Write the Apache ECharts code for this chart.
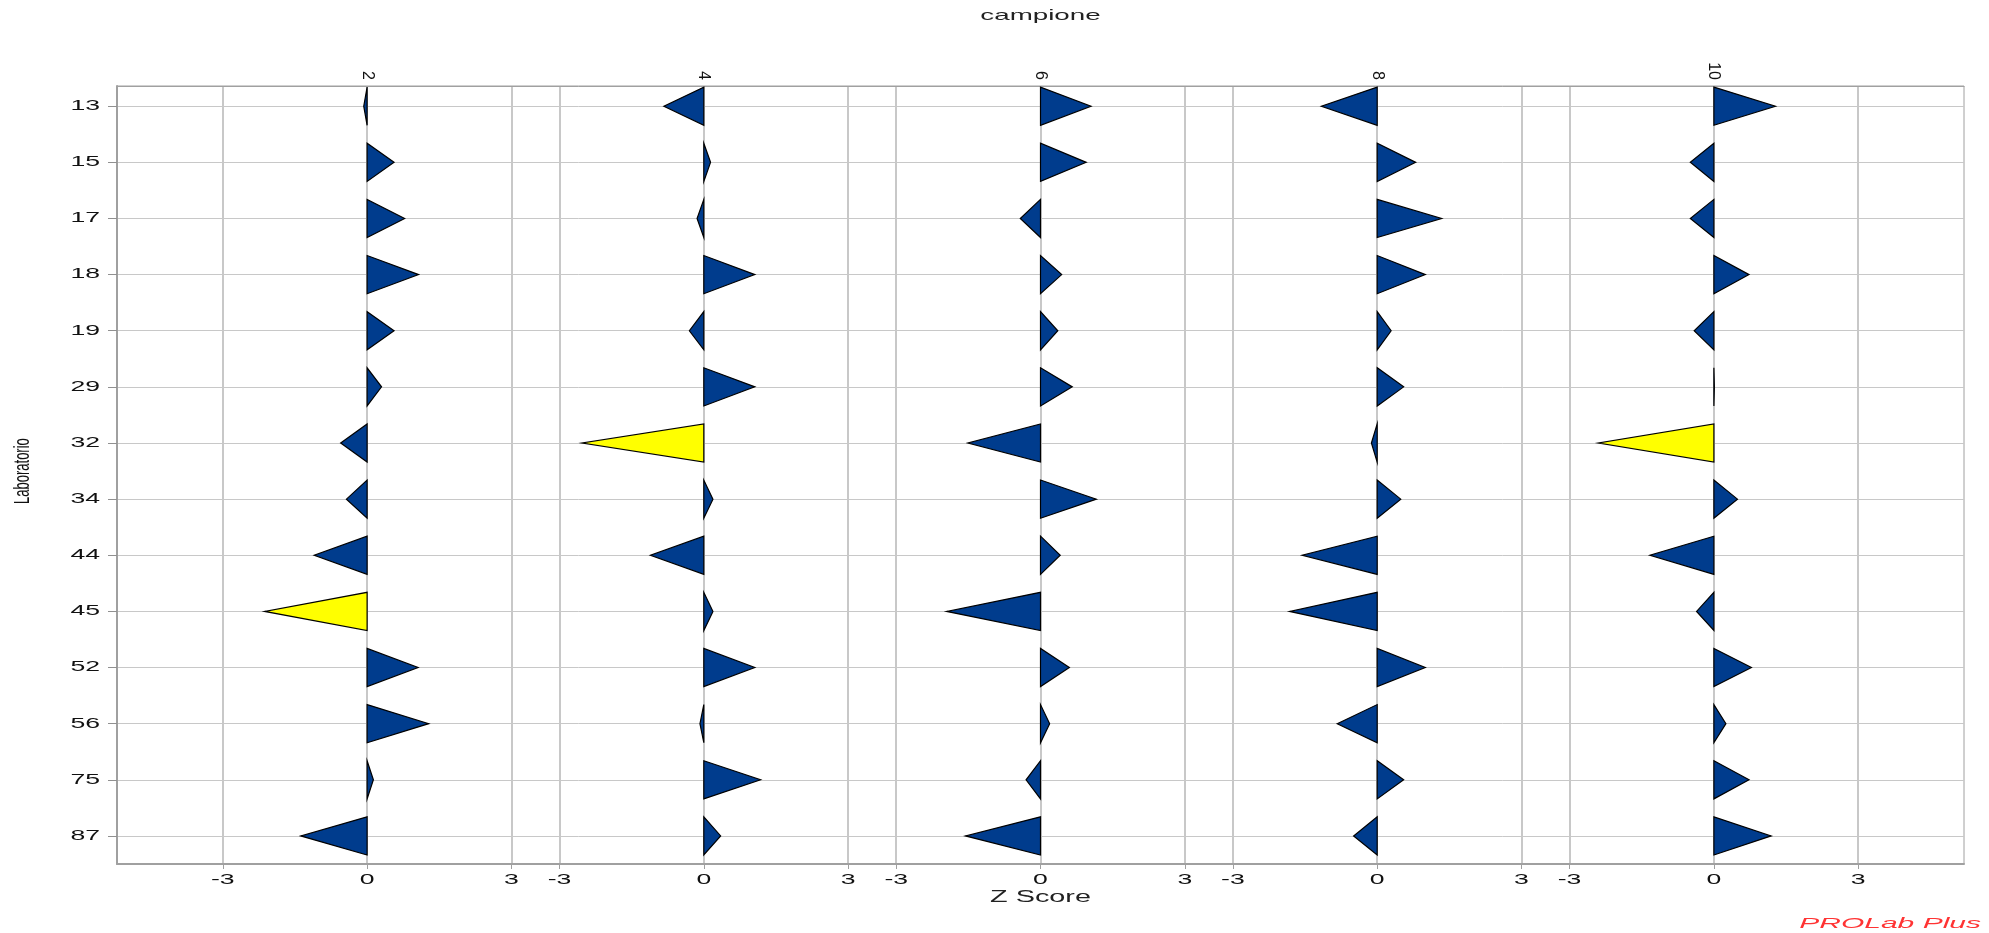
<!DOCTYPE html>
<html><head><meta charset="utf-8">
<script src="https://cdn.jsdelivr.net/npm/echarts@6/dist/echarts.min.js"></script>
<style>html,body{margin:0;padding:0;background:#fff}#c{width:1989px;height:933px}</style>
</head><body><div id="c"></div>
<script>
// ---- data ----
const labs = ['13','15','17','18','19','29','32','34','44','45','52','56','75','87'];
const campioni = ['2','4','6','8','10'];
const z2  = [-0.07, 0.56, 0.78, 1.07, 0.56, 0.30, -0.55, -0.43, -1.10, -2.13, 1.06, 1.28, 0.13, -1.38];
const z4  = [-0.83, 0.14, -0.14, 1.06, -0.30, 1.06, -2.53, 0.19, -1.11, 0.19, 1.06, -0.08, 1.18, 0.35];
const z6  = [1.05, 0.95, -0.42, 0.44, 0.36, 0.66, -1.51, 1.16, 0.41, -1.95, 0.60, 0.19, -0.30, -1.56];
const z8  = [-1.16, 0.80, 1.34, 1.00, 0.29, 0.55, -0.12, 0.49, -1.56, -1.82, 1.00, -0.83, 0.55, -0.49];
const z10 = [1.28, -0.49, -0.49, 0.73, -0.41, 0.01, -2.40, 0.49, -1.33, -0.36, 0.78, 0.25, 0.73, 1.19];
const zTickLabels = [-3, 0, 3];
const zSeries = [z2, z4, z6, z8, z10];

// ---- layout constants ----
const STEP = 7;          // offset between panels on the shared axis
const HALF = 0.34;       // half height of a triangle, in row units
const FONT = '"Liberation Sans", Arial, sans-serif';
const STRETCH = 1.9;     // the reference text is drawn horizontally stretched

const data = [];
zSeries.forEach((arr, i) => arr.forEach((z, j) => data.push([i * STEP, j, z])));

const xCustom = [];
campioni.forEach((c, i) => zTickLabels.forEach(t => xCustom.push(i * STEP + t)));
const topCustom = campioni.map((c, i) => i * STEP);
const rows = labs.map((l, i) => i);

function renderItem(params, api) {
  const base = api.value(0), row = api.value(1), z = api.value(2);
  const a = api.coord([base, row - HALF]);
  const b = api.coord([base, row + HALF]);
  const t = api.coord([base + z, row]);
  return {
    type: 'polygon',
    shape: { points: [a, b, t] },
    style: { fill: Math.abs(z) >= 2 ? '#FFFF00' : '#003C8D', stroke: '#000', lineWidth: 1.2 }
  };
}

const chart = echarts.init(document.getElementById('c'), null, { renderer: 'canvas' });
chart.setOption({
  animation: false,
  backgroundColor: '#fff',
  grid: { left: 117, right: 25, top: 86, bottom: 69, show: true, borderColor: '#A0A0A0', borderWidth: 1 },
  xAxis: [{
    type: 'value', position: 'bottom', min: -5.2, max: 33.2,
    axisLine: { show: true, onZero: false, lineStyle: { color: '#A0A0A0', width: 2 } },
    axisTick: { show: true, customValues: xCustom, length: 5, lineStyle: { color: '#A0A0A0' } },
    axisLabel: { show: false, customValues: xCustom },
    splitLine: { show: true, lineStyle: { color: '#C8C8C8', width: 2 } }
  }, {
    type: 'value', position: 'top', min: -5.2, max: 33.2,
    axisLine: { show: true, onZero: false, lineStyle: { color: '#A0A0A0', width: 1 } },
    axisTick: { show: false, customValues: topCustom },
    axisLabel: {
      customValues: topCustom, rotate: 90, margin: 6, fontSize: 16, color: '#111', fontFamily: FONT,
      formatter: v => campioni[Math.round(v / STEP)]
    },
    splitLine: { show: false }
  }],
  yAxis: {
    type: 'value', inverse: true, min: -0.36, max: 13.5,
    axisLine: { show: true, onZero: false, lineStyle: { color: '#A0A0A0', width: 2 } },
    axisTick: { show: true, customValues: rows, length: 9, lineStyle: { color: '#909090' } },
    axisLabel: { show: false, customValues: rows },
    splitLine: { show: true, lineStyle: { color: '#C8C8C8', width: 1 } }
  },
  series: [{
    type: 'custom', renderItem: renderItem, data: data,
    dimensions: ['base', 'row', 'z'], encode: { x: 0, y: 1 }, clip: false
  }]
});

// tick labels and titles as stretched text, placed through the axes' own scales
const finder = { xAxisIndex: 0, yAxisIndex: 0 };
const graphics = [];
labs.forEach((l, i) => {
  const p = chart.convertToPixel(finder, [-5.2, i]);
  graphics.push({ type: 'text', x: p[0] - 17, y: p[1], scaleX: STRETCH,
    style: { text: l, font: '14px ' + FONT, fill: '#111', align: 'right', verticalAlign: 'middle' } });
});
xCustom.forEach(v => {
  const p = chart.convertToPixel(finder, [v, 13.5]);
  const txt = String(Math.round(v - STEP * Math.round(v / STEP)));
  graphics.push({ type: 'text', x: p[0], y: p[1] + 9, scaleX: STRETCH,
    style: { text: txt, font: '14px ' + FONT, fill: '#111', align: 'center', verticalAlign: 'top' } });
});
const c0 = chart.convertToPixel(finder, [14, 6.5]);
graphics.push({ type: 'text', x: c0[0], y: 16, scaleX: 1.85,
  style: { text: 'campione', font: '15px ' + FONT, fill: '#222', align: 'center', verticalAlign: 'middle' } });
graphics.push({ type: 'text', x: c0[0], y: 898, scaleX: 1.8,
  style: { text: 'Z Score', font: '16px ' + FONT, fill: '#222', align: 'center', verticalAlign: 'middle' } });
graphics.push({ type: 'text', x: 23, y: c0[1], rotation: Math.PI / 2, scaleY: 1.7,
  style: { text: 'Laboratorio', font: '13px "Liberation Sans Narrow", ' + FONT, fill: '#111', align: 'center', verticalAlign: 'middle' } });
graphics.push({ type: 'text', x: 1981, y: 924, scaleX: 2,
  style: { text: 'PROLab Plus', font: 'italic 15px ' + FONT, fill: '#FF3333', align: 'right', verticalAlign: 'middle' } });
chart.setOption({ graphic: graphics });
</script></body></html>
